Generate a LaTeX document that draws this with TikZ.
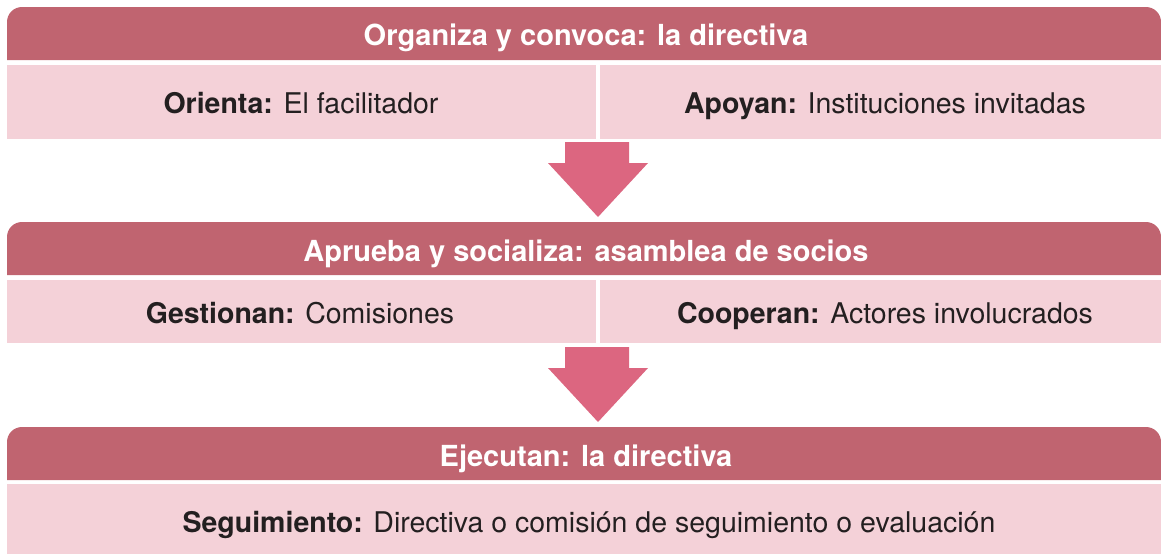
\documentclass[tikz,border=0pt]{standalone}
\usepackage{fontspec}
\setmainfont{TeX Gyre Heros}
\definecolor{headc}{HTML}{C06470}
\definecolor{cellc}{HTML}{F4D1D8}
\definecolor{arrowc}{HTML}{DC6680}
\definecolor{textc}{HTML}{231F20}
\begin{document}
\begin{tikzpicture}[x=1pt,y=-1pt,
  headbar/.style={fill=headc,rounded corners=15pt},
  cellbox/.style={fill=cellc},
  bigarrow/.style={fill=arrowc},
  headtext/.style={text=white,font=\fontsize{29}{34}\selectfont\bfseries,inner sep=0pt,anchor=base},
  celltext/.style={text=textc,font=\fontsize{28.5}{34}\selectfont,inner sep=0pt,anchor=base}]
\useasboundingbox (0,0) rectangle (1161,554);
% headers
\path[headbar] (7,60) [sharp corners]-- (7,20) [rounded corners=15pt]-- (7,7) -- (1161,7) [sharp corners]-- (1161,30) -- (1161,60) -- cycle;
\fill[headc] (7,60) rectangle (1161,30);
\path[headbar] (7,275) [sharp corners]-- (7,240) [rounded corners=15pt]-- (7,222) -- (1161,222) [sharp corners]-- (1161,245) -- (1161,275) -- cycle;
\fill[headc] (7,275) rectangle (1161,245);
\path[headbar] (7,480) [sharp corners]-- (7,445) [rounded corners=15pt]-- (7,427) -- (1161,427) [sharp corners]-- (1161,450) -- (1161,480) -- cycle;
\fill[headc] (7,480) rectangle (1161,450);
% cells
\fill[cellc] (7,65) rectangle (596,139);
\fill[cellc] (600,65) rectangle (1161,139);
\fill[cellc] (7,280) rectangle (596,343);
\fill[cellc] (600,280) rectangle (1161,343);
\fill[cellc] (7,484) rectangle (1161,554);
% arrows
\fill[arrowc] (565,142) -- (629,142) -- (629,163) -- (648,163) -- (598,217) -- (548,163) -- (565,163) -- cycle;
\fill[arrowc] (565,347) -- (629,347) -- (629,368) -- (648,368) -- (598,422) -- (548,368) -- (565,368) -- cycle;
% texts
\node[headtext] (h1) at (586,45) {Organiza y convoca: la directiva};
\node[celltext] (c1a) at (301,113) {\textbf{Orienta:} El facilitador};
\node[celltext] (c1b) at (885,113) {\textbf{Apoyan:} Instituciones invitadas};
\node[headtext] (h2) at (586,261) {Aprueba y socializa: asamblea de socios};
\node[celltext] (c2a) at (300,323) {\textbf{Gestionan:} Comisiones};
\node[celltext] (c2b) at (885,323) {\textbf{Cooperan:} Actores involucrados};
\node[headtext] (h3) at (586,466) {Ejecutan: la directiva};
\node[celltext] (c3) at (589,532) {\textbf{Seguimiento:} Directiva o comisión de seguimiento o evaluación};
\end{tikzpicture}
\end{document}
